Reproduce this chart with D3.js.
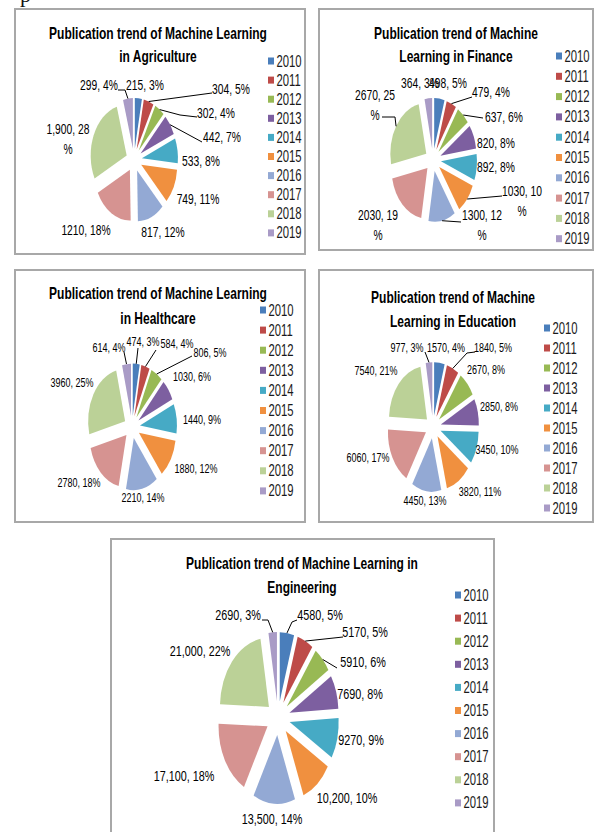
<!DOCTYPE html>
<html>
<head>
<meta charset="utf-8">
<script src="https://cdn.jsdelivr.net/npm/d3@7"></script>
<style>
html,body{margin:0;padding:0;background:#fff;}
svg{display:block;}
</style>
</head>
<body>
<svg id="chart" width="597" height="832"></svg>
<script>
// ---------- DATA ----------
const years = ["2010","2011","2012","2013","2014","2015","2016","2017","2018","2019"];
const yearColors = ["#4a7ebb","#be4b48","#98b954","#7d5fa0","#46aac5","#f0903f","#93a9d4","#d69391","#bbd197","#a99bc6"];

const agricultureValues = [215,304,302,442,533,749,817,1210,1900,299];
const agricultureLabels = ["215, 3%","304, 5%","302, 4%","442, 7%","533, 8%","749, 11%","817, 12%","1210, 18%","1,900, 28\n%","299, 4%"];

const financeValues = [498,479,637,820,892,1030,1300,2030,2670,364];
const financeLabels = ["498, 5%","479, 4%","637, 6%","820, 8%","892, 8%","1030, 10\n%","1300, 12\n%","2030, 19\n%","2670, 25\n%","364, 3%"];

const healthcareValues = [474,584,806,1030,1440,1880,2210,2780,3960,614];
const healthcareLabels = ["474, 3%","584, 4%","806, 5%","1030, 6%","1440, 9%","1880, 12%","2210, 14%","2780, 18%","3960, 25%","614, 4%"];

const educationValues = [1570,1840,2670,2850,3450,3820,4450,6060,7540,977];
const educationLabels = ["1570, 4%","1840, 5%","2670, 8%","2850, 8%","3450, 10%","3820, 11%","4450, 13%","6060, 17%","7540, 21%","977, 3%"];

const engineeringValues = [4580,5170,5910,7690,9270,10200,13500,17100,21000,2690];
const engineeringLabels = ["4580, 5%","5170, 5%","5910, 6%","7690, 8%","9270, 9%","10,200, 10%","13,500, 14%","17,100, 18%","21,000, 22%","2690, 3%"];

const titles = {
  agriculture: ["Publication trend of Machine Learning","in Agriculture"],
  finance: ["Publication trend of Machine","Learning in Finance"],
  healthcare: ["Publication trend of Machine Learning","in Healthcare"],
  education: ["Publication trend of Machine","Learning in Education"],
  engineering: ["Publication trend of Machine Learning in","Engineering"]
};

// ---------- LAYOUT ----------
const SY = 1.41; // vertical stretch of the original figure
const FONT = "'Liberation Sans', Arial, sans-serif";

const panels = [
  { values: agricultureValues, labels: agricultureLabels, title: titles.agriculture,
    box:[15,9,305,254], titleX:158, titleY:[33,56], cx:134, cy:160, r:36, d:8, labelSize:10.3,
    legend:{x:268, y:61, step:19.1},
    labelPos:[[11,-75],[97,-71],[82,-47],[88,-23],[67,1],[64,39],[29,72],[-48,70],[-66,-21],[-35,-75]],
    leaders:{1:[[78,-67]], 2:[[46,-45],[63,-43]], 3:[[68,-18]], 9:[[-9,-70],[-16,-70]]} },
  { values: financeValues, labels: financeLabels, title: titles.finance,
    box:[319,9,593,250], titleX:456, titleY:[33,56], cx:433, cy:160, r:36, d:8, labelSize:10.3,
    legend:{x:556, y:56, step:20.3},
    labelPos:[[15,-77],[58,-68],[71,-43],[63,-17],[63,7],[89,41],[49,65],[-55,65],[-58,-55],[-13,-77]],
    leaders:{1:[[39,-63]], 2:[[50,-42]], 5:[[69,36]], 6:[[28,62]], 8:[[-38,-43],[-51,-43]]} },
  { values: healthcareValues, labels: healthcareLabels, title: titles.healthcare,
    box:[15,270,305,522], titleX:158, titleY:[293,318], cx:132, cy:427, r:37, d:8, labelSize:9,
    legend:{x:260, y:310, step:20.1},
    labelPos:[[11,-85],[45,-83],[78,-74],[60,-50],[70,-7],[64,42],[11,71],[-53,56],[-60,-44],[-23,-79]],
    leaders:{0:[[6,-79]], 1:[[24,-77]], 2:[[60,-71]], 9:[[-8,-75]]} },
  { values: educationValues, labels: educationLabels, title: titles.education,
    box:[319,270,593,522], titleX:453, titleY:[297,321], cx:433, cy:427, r:38, d:8, labelSize:9,
    legend:{x:544, y:328, step:20},
    labelPos:[[13,-79],[60,-79],[53,-57],[66,-20],[64,23],[47,65],[-8,74],[-65,31],[-57,-56],[-26,-79]],
    leaders:{1:[[34,-74],[42,-75]], 9:[[-8,-75]]} },
  { values: engineeringValues, labels: engineeringLabels, title: titles.engineering,
    box:[111,539,494,845], titleX:302, titleY:[563,587], cx:278, cy:718, r:49, d:12, labelSize:10.8,
    legend:{x:455, y:595, step:23.1},
    labelPos:[[42,-103],[87,-86],[85,-56],[82,-24],[83,22],[69,80],[-6,101],[-94,58],[-78,-67],[-40,-103]],
    leaders:{0:[[14,-96],[19,-98]], 1:[[65,-81]], 2:[[59,-50]], 9:[[-10,-98],[-16,-98]]} }
];

// ---------- DRAW ----------
const svg = d3.select("#chart");

// stray glyph from the page above
svg.append("text").attr("x",20).attr("y",2)
  .attr("font-family","'Liberation Serif', 'Times New Roman', serif")
  .attr("font-size",22).attr("fill","#111").text("p");

function stretchedText(sel, x, y, txt, size, weight, anchor){
  return sel.append("text")
    .attr("transform", `translate(${x},${y}) scale(1,${SY})`)
    .attr("dy","0.35em")
    .attr("text-anchor", anchor || "middle")
    .attr("font-family", FONT)
    .attr("font-size", size)
    .attr("font-weight", weight || "normal")
    .attr("fill", "#000")
    .text(txt);
}

const pieGen = d3.pie().sort(null).value(d => d).startAngle(0).endAngle(2*Math.PI);

panels.forEach(p => {
  const panel = svg.append("g");
  const [x0,y0,x1,y1] = p.box;
  panel.append("rect")
    .attr("x",x0).attr("y",y0).attr("width",x1-x0).attr("height",y1-y0)
    .attr("fill","#fff").attr("stroke","#a8a8a8").attr("stroke-width",2);

  // title
  p.title.forEach((t,i) => stretchedText(panel, p.titleX, p.titleY[i], t, 12, "bold"));

  // pie
  const arcs = pieGen(p.values);
  const arc = d3.arc().innerRadius(0).outerRadius(p.r);
  const pg = panel.append("g").attr("transform", `translate(${p.cx},${p.cy}) scale(1,${SY})`);
  pg.selectAll("path").data(arcs).join("path")
    .attr("d", arc)
    .attr("transform", a => {
      const m = (a.startAngle + a.endAngle)/2;
      return `translate(${p.d*Math.sin(m)},${-p.d*Math.cos(m)})`;
    })
    .attr("fill", (a,i) => yearColors[i]);

  // leader lines
  const R = p.r + p.d;
  Object.keys(p.leaders).forEach(k => {
    const a = arcs[+k];
    const m = (a.startAngle + a.endAngle)/2;
    const pts = [[p.cx + R*Math.sin(m), p.cy - R*Math.cos(m)*SY]]
      .concat(p.leaders[k].map(q => [p.cx + q[0], p.cy + q[1]]));
    panel.append("path")
      .attr("d", d3.line()(pts))
      .attr("fill","none").attr("stroke","#000").attr("stroke-width",1);
  });

  // data labels
  p.labels.forEach((lab,i) => {
    const lines = lab.split("\n");
    const lh = p.labelSize * 1.35 * SY;
    const [dx,dy] = p.labelPos[i];
    lines.forEach((ln,j) => {
      const yy = p.cy + dy + (j - (lines.length-1)/2)*lh;
      stretchedText(panel, p.cx + dx, yy, ln, p.labelSize, "normal");
    });
  });

  // legend
  const lg = panel.append("g");
  years.forEach((yr,i) => {
    const yy = p.legend.y + i*p.legend.step;
    lg.append("rect").attr("x",p.legend.x).attr("y",yy-3.5).attr("width",6).attr("height",7)
      .attr("fill",yearColors[i]);
    stretchedText(lg, p.legend.x + 8.5, yy, yr, 11.3, "normal", "start").attr("fill","#1a1a1a");
  });
});
</script>
</body>
</html>
